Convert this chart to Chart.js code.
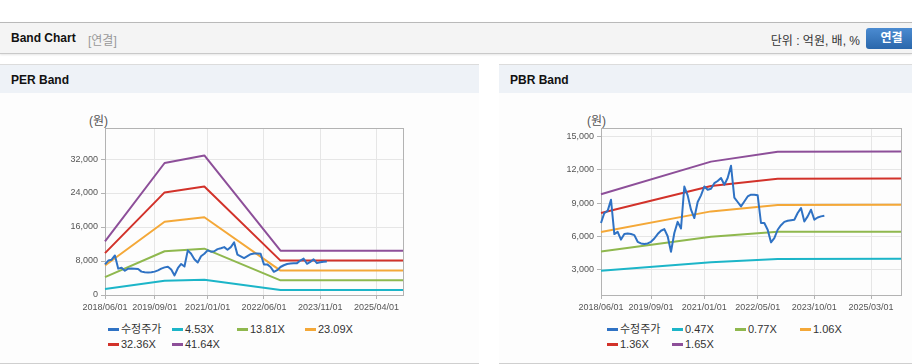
<!DOCTYPE html>
<html>
<head>
<meta charset="utf-8">
<script src="https://cdn.jsdelivr.net/npm/chart.js@4.4.1/dist/chart.umd.min.js"></script>
<style>
  body { margin: 0; background: #fff; }
  #wrap { position: relative; width: 912px; height: 364px; overflow: hidden; background: #fff;
          font-family: 'Liberation Sans', 'Noto Sans CJK KR', sans-serif; }
  .abs { position: absolute; }
  .topbar { left: 0; top: 22px; width: 912px; height: 30px; background: #f4f4f4;
            border-top: 1px solid #b9b9b9; border-bottom: 1px solid #c9c9c9;
            box-shadow: 0 1px 2px rgba(0,0,0,0.10); }
  .panel { top: 64px; height: 298px; border-top: 1px solid #dcdcdc; border-bottom: 1px solid #cfcfcf; background: #fdfdfd; }
  .ph { height: 28px; background: #eef2f7; font-size: 12px; font-weight: bold; color: #111; line-height: 30px; padding-left: 11px; }
  .unit { font-size: 12px; color: #555; }
  .lg { font-size: 11px; color: #333; line-height: 14px; white-space: nowrap; }
  .lg i { display: inline-block; width: 11px; height: 3px; vertical-align: middle; margin-right: 2px; margin-top: -2px; }
  canvas { position: absolute; }
</style>
</head>
<body>
<div id="wrap">
  <div class="abs topbar">
    <span class="abs" style="left:11px;top:8px;font-size:12px;font-weight:bold;color:#111;">Band Chart</span>
    <span class="abs" style="left:88px;top:8px;font-size:12px;color:#999;">[연결]</span>
    <span class="abs" style="right:52px;top:8px;font-size:12px;color:#333;">단위 : 억원, 배, %</span>
    <span class="abs" style="left:866px;top:5px;width:51px;height:21px;border-radius:3px;background:linear-gradient(#4b8bd1,#2a67ab);color:#fff;font-size:12px;font-weight:bold;line-height:21px;text-align:center;">연결</span>
  </div>
  <div class="abs panel" style="left:0;width:479px;"><div class="ph">PER Band</div></div>
  <div class="abs panel" style="left:499px;width:413px;"><div class="ph">PBR Band</div></div>
  <div class="abs unit" style="left:89px;top:111px;">(원)</div>
  <div class="abs unit" style="left:587px;top:111px;">(원)</div>
  <canvas id="per" width="479" height="215" style="left:0;top:100px;"></canvas>
  <canvas id="pbr" width="413" height="215" style="left:499px;top:100px;"></canvas>
  <div id="perLegend"></div>
  <div id="pbrLegend"></div>
</div>
<script>
// monthly categories 2018/06 .. 2025/12
const months = [];
for (let y = 2018, m = 6; y < 2026; ) {
  months.push(y + '/' + String(m).padStart(2, '0') + '/01');
  m++; if (m > 12) { m = 1; y++; }
}

const perTicks = ['2018/06/01', '2019/09/01', '2021/01/01', '2022/06/01', '2023/11/01', '2025/04/01'];
const pbrTicks = ['2018/06/01', '2019/09/01', '2021/01/01', '2022/05/01', '2023/10/01', '2025/03/01'];
const perYTicks = [0, 8000, 16000, 24000, 32000];
const pbrYTicks = [3000, 6000, 9000, 12000, 15000];

// 수정주가 (monthly, 2018/06 ~ 2024/01)
const price = [7200, 8100, 8300, 9300, 6200, 6400, 5700, 6200, 6250, 6200,
               6100, 5500, 5350, 5300, 5350, 5500, 5800, 6200, 6500, 6650,
               6000, 4600, 6300, 7300, 6700, 10500, 9700, 8400, 7650, 9100,
               9700, 10500, 10200, 10300, 10800, 11000, 11270, 10660, 11270, 12380,
               9500, 9100, 8700, 9150, 9600, 9760, 9760, 9700, 7200, 7200,
               6590, 5450, 5840, 6590, 7000, 7300, 7400, 7450, 7500, 8100,
               8550, 7340, 7800, 8400, 7500, 7700, 7800, 7860];

// PER band breakpoints
const perBandDates = ['2018/06/01', '2019/12/01', '2020/12/01', '2022/11/01', '2025/12/01'];
const per453 = [1420, 3380, 3570, 1180, 1180];
const per1381 = [4200, 10300, 10900, 3450, 3450];
const per2309 = [6950, 17230, 18300, 5750, 5750];
const per3236 = [9850, 24140, 25550, 8090, 8090];
const per4164 = [12620, 31060, 32850, 10420, 10420];

// PBR band breakpoints
const pbrBandDates = ['2018/06/01', '2021/03/01', '2022/11/01', '2025/12/01'];
const pbr047 = [2880, 3650, 3950, 3960];
const pbr077 = [4630, 5950, 6400, 6400];
const pbr106 = [6380, 8250, 8830, 8850];
const pbr136 = [8100, 10550, 11200, 11220];
const pbr165 = [9800, 12750, 13650, 13670];

const colors = ['#2f72c4', '#1cb5c8', '#8fb84e', '#f4a838', '#d2322a', '#8d4f99'];
const perNames = ['수정주가', '4.53X', '13.81X', '23.09X', '32.36X', '41.64X'];
const pbrNames = ['수정주가', '0.47X', '0.77X', '1.06X', '1.36X', '1.65X'];

Chart.defaults.font.family = "'Liberation Sans', 'Noto Sans CJK KR', sans-serif";
Chart.defaults.font.size = 9;
Chart.defaults.color = '#555';

const borderBox = {
  id: 'borderBox',
  beforeDatasetsDraw(chart) {
    const a = chart.chartArea, c = chart.ctx;
    c.save();
    c.strokeStyle = '#b3b3b3';
    c.lineWidth = 1;
    c.strokeRect(Math.round(a.left) + 0.5, Math.round(a.top) + 0.5,
                 Math.round(a.right - a.left), Math.round(a.bottom - a.top));
    c.restore();
  }
};

function pts(dates, vals) {
  return dates.map((d, i) => ({ x: d, y: vals[i] }));
}

function makeChart(id, names, bands, tickLabels, yTicks, yMin, yMax, padL, padR) {
  const series = [price].concat(bands);
  const datasets = series.map((s, i) => ({
    label: names[i],
    data: s,
    borderColor: colors[i],
    backgroundColor: colors[i],
    borderWidth: 2,
    pointRadius: 0,
    tension: 0,
    fill: false,
    spanGaps: true,
    borderJoinStyle: 'round'
  }));
  const show = i => tickLabels.includes(months[i]);
  new Chart(document.getElementById(id), {
    type: 'line',
    data: { labels: months, datasets: datasets },
    plugins: [borderBox],
    options: {
      responsive: false,
      animation: false,
      layout: { padding: { left: padL, right: padR, top: 28, bottom: 0 } },
      plugins: { legend: { display: false }, tooltip: { enabled: false } },
      scales: {
        x: {
          type: 'category',
          offset: false,
          border: { display: false },
          grid: {
            color: ctx => show(ctx.index) ? '#e6e6e6' : 'rgba(0,0,0,0)',
            tickColor: ctx => show(ctx.index) ? '#b3b3b3' : 'rgba(0,0,0,0)',
            tickLength: 4
          },
          ticks: {
            autoSkip: false, maxRotation: 0, minRotation: 0, padding: 3,
            callback: (v, i) => show(i) ? months[i] : ''
          },
          afterFit: s => { s.height = 20; }
        },
        y: {
          min: yMin, max: yMax,
          border: { display: false },
          grid: { color: '#e6e6e6', tickColor: '#b3b3b3', tickLength: 4 },
          ticks: {
            padding: 3,
            callback: v => v.toLocaleString('en-US')
          },
          afterBuildTicks: s => { s.ticks = yTicks.map(v => ({ value: v })); },
          afterFit: s => { s.width = 45; }
        }
      }
    }
  });
}

function makeLegend(id, names, cols, rows) {
  const el = document.getElementById(id);
  names.forEach((n, i) => {
    const d = document.createElement('div');
    d.className = 'abs lg';
    d.style.left = cols[i % 4] + 'px';
    d.style.top = rows[Math.floor(i / 4)] + 'px';
    d.innerHTML = '<i style="background:' + colors[i] + '"></i>' + n;
    el.appendChild(d);
  });
}

makeChart('per', perNames,
  [pts(perBandDates, per453), pts(perBandDates, per1381), pts(perBandDates, per2309),
   pts(perBandDates, per3236), pts(perBandDates, per4164)],
  perTicks, perYTicks, 0, 39300, 60, 76);

makeChart('pbr', pbrNames,
  [pts(pbrBandDates, pbr047), pts(pbrBandDates, pbr077), pts(pbrBandDates, pbr106),
   pts(pbrBandDates, pbr136), pts(pbrBandDates, pbr165)],
  pbrTicks, pbrYTicks, 690, 15790, 57, 11);

makeLegend('perLegend', perNames, [108, 172, 237, 305], [322, 337]);
makeLegend('pbrLegend', pbrNames, [607, 672, 735, 800], [322, 337]);
</script>
</body>
</html>
